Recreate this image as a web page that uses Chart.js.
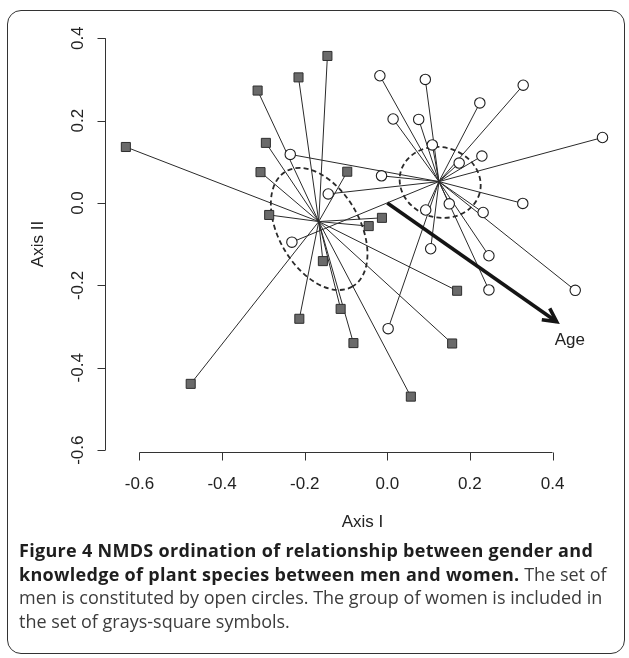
<!DOCTYPE html>
<html>
<head>
<meta charset="utf-8">
<script src="https://cdn.jsdelivr.net/npm/chart.js@4.4.1/dist/chart.umd.min.js"></script>
<style>
  html, body { margin: 0; padding: 0; background: #fff; }
  #wrap { position: relative; width: 629px; height: 658px; overflow: hidden; }
  #frame {
    position: absolute; left: 7px; top: 10px; width: 618px; height: 644px;
    border: 1.5px solid #333; border-radius: 14px; box-sizing: border-box;
  }
  canvas { position: absolute; left: 0; top: 0; }
  #caption {
    position: absolute; left: 19px; top: 539px;
    font-family: "Open Sans", "Noto Sans", sans-serif; font-size: 18px;
    line-height: 23.7px; color: #3c3c3c; white-space: nowrap;
  }
  #caption b { color: #1e1e1e; font-weight: 700; letter-spacing: 0.3px; }
</style>
</head>
<body>
<div id="wrap">
  <div id="frame"></div>
  <canvas id="nmds" width="629" height="658"></canvas>
  <div id="caption"><b>Figure 4 NMDS ordination of relationship between gender and<br>knowledge of plant species between men and women.</b> The set of<br>men is constituted by open circles. The group of women is included in<br>the set of grays-square symbols.</div>
</div>
<script>
// women (gray squares)
var womenX = [-0.145, -0.215, -0.314, -0.633, -0.294, -0.307, -0.097, -0.286, -0.013,
              -0.045, -0.156, -0.113, -0.213, -0.082, -0.476, 0.169, 0.157, 0.057];
var womenY = [0.357, 0.305, 0.273, 0.136, 0.146, 0.075, 0.076, -0.029, -0.036,
              -0.056, -0.141, -0.257, -0.281, -0.340, -0.439, -0.213, -0.341, -0.470];
// men (open circles)
var menX = [-0.235, -0.143, -0.231, -0.014, -0.018, 0.092, 0.329, 0.224, 0.014, 0.076, 0.521, 0.109,
            0.229, 0.174, 0.328, 0.150, 0.093, 0.232, 0.105, 0.246, 0.246, 0.455, 0.002];
var menY = [0.118, 0.022, -0.095, 0.066, 0.309, 0.300, 0.286, 0.243, 0.204, 0.203, 0.159, 0.141,
            0.114, 0.097, -0.001, -0.002, -0.017, -0.023, -0.111, -0.128, -0.211, -0.212, -0.305];

var womenCentroid = [-0.166, -0.045];
var menCentroid = [0.125, 0.052];

// ellipses: centre x, centre y, semi-axis 1, semi-axis 2, rotation (deg)
var womenEllipse = [-0.165, -0.063, 0.161, 0.098, 60];
var menEllipse = [0.128, 0.050, 0.099, 0.085, 15];

// fitted vector
var arrowX = [0.0, 0.410];
var arrowY = [0.0, -0.288];
var arrowLabel = "Age";
var arrowLabelPos = [0.442, -0.334];

var xTicks = [-0.6, -0.4, -0.2, 0.0, 0.2, 0.4];
var yTicks = [-0.6, -0.4, -0.2, 0.0, 0.2, 0.4];
var tickLabels = ["-0.6", "-0.4", "-0.2", "0.0", "0.2", "0.4"];

var axisFont = '17px "Liberation Sans", Arial, sans-serif';
var ink = "#222";

function pts(xs, ys) {
  return xs.map(function (x, i) { return { x: x, y: ys[i] }; });
}

var datasets = [
  {
    label: "women", data: pts(womenX, womenY), order: 0,
    pointStyle: "rect", pointRadius: 6.4, backgroundColor: "#6a6a6a",
    borderColor: "#2e2e2e", borderWidth: 1
  },
  {
    label: "men", data: pts(menX, menY), order: 0,
    pointStyle: "circle", pointRadius: 5.2, backgroundColor: "#fff",
    borderColor: "#1e1e1e", borderWidth: 1.1
  },
  {
    label: "age", data: pts(arrowX, arrowY), order: 1, showLine: true,
    borderColor: "#151515", borderWidth: 3.6, pointRadius: 0, borderCapStyle: "butt"
  }
];

womenX.forEach(function (x, i) {
  datasets.push({
    data: [{ x: womenCentroid[0], y: womenCentroid[1] }, { x: x, y: womenY[i] }],
    showLine: true, pointRadius: 0, borderWidth: 1, borderColor: "#2a2a2a", order: 2
  });
});
menX.forEach(function (x, i) {
  datasets.push({
    data: [{ x: menCentroid[0], y: menCentroid[1] }, { x: x, y: menY[i] }],
    showLine: true, pointRadius: 0, borderWidth: 1, borderColor: "#2a2a2a", order: 2
  });
});

var ellipsePlugin = {
  id: "ellipses",
  beforeDatasetsDraw: function (chart) {
    var ctx = chart.ctx, xs = chart.scales.x, ys = chart.scales.y;
    var unit = xs.getPixelForValue(1) - xs.getPixelForValue(0);
    ctx.save();
    ctx.strokeStyle = "#2a2a2a";
    ctx.lineWidth = 1.8;
    ctx.setLineDash([5, 3.2]);
    [womenEllipse, menEllipse].forEach(function (e) {
      ctx.beginPath();
      ctx.ellipse(xs.getPixelForValue(e[0]), ys.getPixelForValue(e[1]),
        e[2] * unit, e[3] * unit, e[4] * Math.PI / 180, 0, Math.PI * 2);
      ctx.stroke();
    });
    ctx.restore();
  }
};

var axesPlugin = {
  id: "rAxes",
  afterDatasetsDraw: function (chart) {
    var ctx = chart.ctx, xs = chart.scales.x, ys = chart.scales.y, area = chart.chartArea;
    ctx.save();

    // arrow head
    var x0 = xs.getPixelForValue(arrowX[0]), y0 = ys.getPixelForValue(arrowY[0]);
    var x1 = xs.getPixelForValue(arrowX[1]), y1 = ys.getPixelForValue(arrowY[1]);
    var ang = Math.atan2(y1 - y0, x1 - x0);
    ctx.strokeStyle = "#151515";
    ctx.lineWidth = 3.6;
    ctx.lineCap = "butt";
    ctx.lineJoin = "miter";
    ctx.beginPath();
    ctx.moveTo(x1 - 15 * Math.cos(ang - 0.48), y1 - 15 * Math.sin(ang - 0.48));
    ctx.lineTo(x1, y1);
    ctx.lineTo(x1 - 15 * Math.cos(ang + 0.48), y1 - 15 * Math.sin(ang + 0.48));
    ctx.stroke();

    ctx.fillStyle = ink;
    ctx.font = axisFont;
    ctx.textAlign = "center";
    ctx.textBaseline = "middle";
    ctx.fillText(arrowLabel, xs.getPixelForValue(arrowLabelPos[0]), ys.getPixelForValue(arrowLabelPos[1]));

    // axes, R style
    ctx.strokeStyle = "#333";
    ctx.lineWidth = 1;
    var by = area.bottom + 0.5;
    ctx.beginPath();
    ctx.moveTo(xs.getPixelForValue(xTicks[0]), by);
    ctx.lineTo(xs.getPixelForValue(xTicks[xTicks.length - 1]), by);
    xTicks.forEach(function (t) {
      var px = Math.round(xs.getPixelForValue(t)) + 0.5;
      ctx.moveTo(px, by);
      ctx.lineTo(px, by + 8);
    });
    var lx = area.left + 0.5;
    ctx.moveTo(lx, ys.getPixelForValue(yTicks[0]));
    ctx.lineTo(lx, ys.getPixelForValue(yTicks[yTicks.length - 1]));
    yTicks.forEach(function (t) {
      var py = Math.round(ys.getPixelForValue(t)) + 0.5;
      ctx.moveTo(lx, py);
      ctx.lineTo(lx - 8, py);
    });
    ctx.stroke();

    xTicks.forEach(function (t, i) {
      ctx.fillText(tickLabels[i], xs.getPixelForValue(t), area.bottom + 32);
    });
    yTicks.forEach(function (t, i) {
      ctx.save();
      ctx.translate(area.left - 27, ys.getPixelForValue(t));
      ctx.rotate(-Math.PI / 2);
      ctx.fillText(tickLabels[i], 0, 0);
      ctx.restore();
    });

    ctx.fillText("Axis I", (area.left + area.right) / 2 + 4, area.bottom + 70);
    ctx.save();
    ctx.translate(area.left - 67, (area.top + area.bottom) / 2 + 3);
    ctx.rotate(-Math.PI / 2);
    ctx.fillText("Axis II", 0, 0);
    ctx.restore();

    ctx.restore();
  }
};

new Chart(document.getElementById("nmds"), {
  type: "scatter",
  data: { datasets: datasets },
  options: {
    responsive: false,
    animation: false,
    layout: { padding: { left: 105, right: 17, top: 30, bottom: 206 } },
    scales: {
      x: { type: "linear", min: -0.6835, max: 0.544, display: false },
      y: { type: "linear", min: -0.6044, max: 0.42, display: false }
    },
    plugins: { legend: { display: false }, tooltip: { enabled: false } },
    elements: { line: { tension: 0 } }
  },
  plugins: [ellipsePlugin, axesPlugin]
});
</script>
</body>
</html>
